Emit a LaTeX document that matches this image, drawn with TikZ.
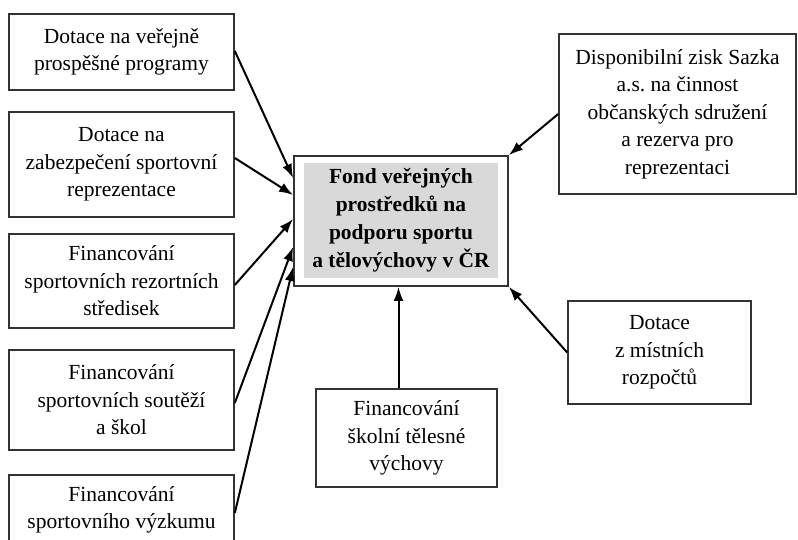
\documentclass[tikz,border=0pt]{standalone}
\usepackage{fontspec}
\setmainfont{Liberation Serif}
\usetikzlibrary{arrows.meta}
\frenchspacing

\begin{document}
\begin{tikzpicture}[x=1pt,y=-1pt,
    box/.style={draw=black!80, line width=1.6pt, align=center, inner sep=0pt,
        minimum width=225pt, font=\fontsize{21.5}{27.5}\selectfont},
    pfeil/.style={-{Latex[length=14pt,width=10pt]}, line width=2pt}]

    \clip (0,0) rectangle (798,539);

    % Central fund with gray field
    \node[fill=black!15, minimum width=194pt, minimum height=115pt, align=center, inner sep=0pt,
        font=\fontsize{21.5}{28}\selectfont\bfseries] (fond) at (401,220.5)
        {Fond veřejných\\prostředků na\\podporu sportu\\a tělovýchovy v ČR};
    \node[draw=black!80, line width=1.8pt, minimum width=214pt, minimum height=130pt] (rahmen) at (401,221) {};

    % Sources on the left
    \node[box, minimum height=76pt] (verejne) at (121.5,52) {Dotace na veřejně\\prospěšné programy};
    \node[box, minimum height=105pt] (reprez) at (121.5,164.5) {Dotace na\\zabezpečení sportovní\\reprezentace};
    \node[box, minimum height=94pt] (strediska) at (121.5,281) {Financování\\sportovních rezortních\\středisek};
    \node[box, minimum height=100pt] (souteze) at (121.5,400) {Financování\\sportovních soutěží\\a škol};
    \node[box, minimum height=70pt] (vyzkum) at (121.5,510) {Financování\\sportovního výzkumu};

    % Sources on the right and below
    \node[box, minimum width=237pt, minimum height=160pt] (sazka) at (677.5,114)
        {Disponibilní zisk Sazka\\a.s. na činnost\\občanských sdružení\\a rezerva pro\\reprezentaci};
    \node[box, minimum width=183pt, minimum height=103pt] (mistni) at (659.5,352.5) {Dotace\\z místních\\rozpočtů};
    \node[box, minimum width=181pt, minimum height=98pt] (skolni) at (406.5,438) {Financování\\školní tělesné\\výchovy};

    % Arrows into the fund
    \draw[pfeil] ([yshift=1pt]verejne.east) -- ([yshift=43pt]rahmen.west);
    \draw[pfeil] ([yshift=6.5pt]reprez.east) -- ([yshift=26pt]rahmen.west);
    \draw[pfeil] ([yshift=-4pt]strediska.east) -- ([yshift=2pt]rahmen.west);
    \draw[pfeil] ([yshift=-3pt]souteze.east) -- ([yshift=-26pt]rahmen.west);
    \draw[pfeil] ([yshift=-3pt]vyzkum.east) -- ([yshift=-46pt]rahmen.west);
    \draw[pfeil] (sazka.west) -- (rahmen.north east);
    \draw[pfeil] (mistni.west) -- (rahmen.south east);
    \draw[pfeil] ([xshift=-8pt]skolni.north) -- ([xshift=-8pt]skolni.north |- rahmen.south);
\end{tikzpicture}
\end{document}
